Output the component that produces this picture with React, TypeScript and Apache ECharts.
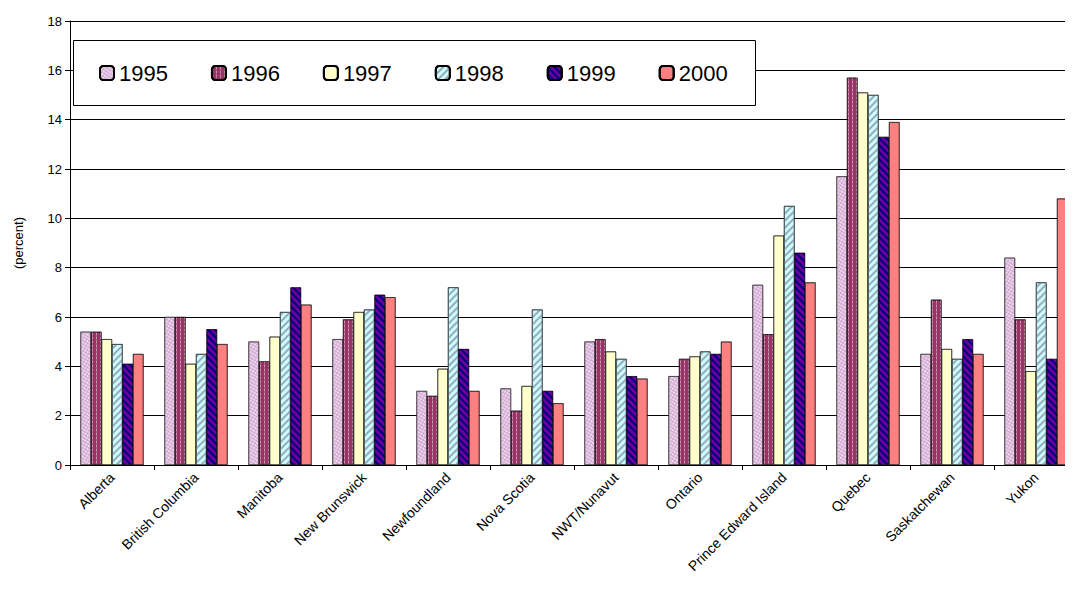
import React, { useEffect, useRef } from "react";
import * as echarts from "echarts";

const categories = ["Alberta","British Columbia","Manitoba","New Brunswick","Newfoundland","Nova Scotia","NWT/Nunavut","Ontario","Prince Edward Island","Quebec","Saskatchewan","Yukon"];
const years = ["1995","1996","1997","1998","1999","2000"];
const v1995 = [5.4,6.0,5.0,5.1,3.0,3.1,5.0,3.6,7.3,11.7,4.5,8.4];
const v1996 = [5.4,6.0,4.2,5.9,2.8,2.2,5.1,4.3,5.3,15.7,6.7,5.9];
const v1997 = [5.1,4.1,5.2,6.2,3.9,3.2,4.6,4.4,9.3,15.1,4.7,3.8];
const v1998 = [4.9,4.5,6.2,6.3,7.2,6.3,4.3,4.6,10.5,15.0,4.3,7.4];
const v1999 = [4.1,5.5,7.2,6.9,4.7,3.0,3.6,4.5,8.6,13.3,5.1,4.3];
const v2000 = [4.5,4.9,6.5,6.8,3.0,2.5,3.5,5.0,7.4,13.9,4.5,10.8];
const values = [v1995,v1996,v1997,v1998,v1999,v2000];

const fills = ["#ffffff","#993366","#ffffcc","#ccffff","#660099","#ff8080"];
const decals: any[] = [
  { symbol: "circle", color: "#cc99cc", symbolSize: 0.9, dashArrayX: [3, 0], dashArrayY: [3, 0] },
  { symbol: "rect", color: "rgba(255,255,255,0.6)", dashArrayX: [[1, 3]], dashArrayY: [4, 0], rotation: 0 },
  { symbol: "none" },
  { symbol: "rect", color: "#99aabb", dashArrayX: [1, 0], dashArrayY: [2, 3], rotation: -Math.PI / 4 },
  { symbol: "rect", color: "#000080", dashArrayX: [1, 0], dashArrayY: [2, 3], rotation: Math.PI / 4 },
  { symbol: "none" },
];

export default function App() {
  const ref = useRef<HTMLDivElement>(null);
  useEffect(() => {
    const chart = echarts.init(ref.current!, undefined, { renderer: "svg" });
    chart.setOption({
      animation: false,
      aria: { enabled: true, decal: { show: true } },
      textStyle: { fontFamily: "Arial, Liberation Sans, sans-serif" },
      grid: { left: 70, width: 1008, top: 21, height: 444, containLabel: false },
      graphic: [{
        type: "rect", left: 73, top: 40,
        shape: { width: 682, height: 65 },
        style: { fill: "#fff", stroke: "#000", lineWidth: 1 },
        z: 5,
      }],
      legend: {
        left: 94, top: 57, z: 10,
        itemGap: 43, itemWidth: 14, itemHeight: 14,
        textStyle: { fontSize: 22, color: "#000" },
        data: years,
      },
      xAxis: {
        type: "category", data: categories,
        axisLine: { lineStyle: { color: "#000" } },
        axisTick: { show: true, lineStyle: { color: "#000" } },
        axisLabel: { rotate: 45, fontSize: 14, color: "#000", interval: 0, margin: 10 },
      },
      yAxis: {
        type: "value", min: 0, max: 18, interval: 2,
        name: "(percent)", nameLocation: "middle", nameGap: 45,
        nameTextStyle: { fontSize: 13, color: "#000" },
        axisLine: { show: true, lineStyle: { color: "#000" } },
        axisTick: { show: true, lineStyle: { color: "#000" } },
        axisLabel: { fontSize: 13, color: "#000" },
        splitLine: { lineStyle: { color: "#000", width: 1 } },
      },
      series: years.map((y, i) => ({
        name: y, type: "bar", data: values[i],
        barCategoryGap: "25%", barGap: "0%",
        itemStyle: { color: fills[i], borderColor: "#000", borderWidth: 0.5, decal: decals[i] },
      })),
    });
    return () => chart.dispose();
  }, []);
  return (
    <div style={{ width: 1073, height: 600, margin: -8, overflow: "hidden" }}>
      <div ref={ref} style={{ width: 1090, height: 600 }} />
    </div>
  );
}
